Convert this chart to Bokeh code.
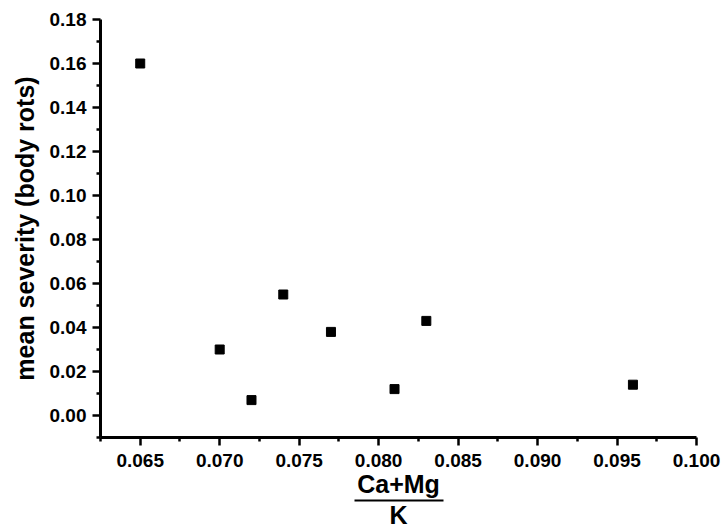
from bokeh.plotting import figure
from bokeh.models import (FixedTicker, PrintfTickFormatter, Range1d, LinearAxis,
                          ColumnDataSource)
from bokeh.embed import file_html
from bokeh.resources import INLINE

# data
ratio = [0.065, 0.070, 0.072, 0.074, 0.077, 0.081, 0.083, 0.096]
severity = [0.160, 0.030, 0.007, 0.055, 0.038, 0.012, 0.043, 0.014]

x_major = [0.065, 0.070, 0.075, 0.080, 0.085, 0.090, 0.095, 0.100]
x_minor = [0.0625, 0.0675, 0.0725, 0.0775, 0.0825, 0.0875, 0.0925, 0.0975]
y_major = [0.00, 0.02, 0.04, 0.06, 0.08, 0.10, 0.12, 0.14, 0.16, 0.18]
y_minor = [-0.01, 0.01, 0.03, 0.05, 0.07, 0.09, 0.11, 0.13, 0.15, 0.17]

x_range = (0.0625, 0.100)
y_range = (-0.01, 0.18)

x_title_top = "Ca+Mg"
x_title_bottom = "K"
y_title = "mean severity (body rots)"

FONT = "Liberation Sans"

p = figure(width=721, height=531, output_backend="svg", toolbar_location=None,
           x_range=Range1d(*x_range), y_range=Range1d(*y_range),
           min_border_left=100, min_border_right=25, min_border_top=19,
           min_border_bottom=94)
p.outline_line_color = None
p.xgrid.visible = False
p.ygrid.visible = False
p.background_fill_color = "white"
p.border_fill_color = "white"

src = ColumnDataSource(dict(x=ratio, y=severity))
p.scatter("x", "y", source=src, marker="square", size=9, color="black")

for ax, major, minor, fmt in ((p.xaxis[0], x_major, x_minor, "%.3f"),
                              (p.yaxis[0], y_major, y_minor, "%.2f")):
    ax.ticker = FixedTicker(ticks=major, minor_ticks=minor)
    ax.formatter = PrintfTickFormatter(format=fmt)
    ax.axis_line_width = 3
    ax.axis_line_color = "black"
    ax.major_tick_line_width = 2.5
    ax.minor_tick_line_width = 2.5
    ax.major_tick_line_color = "black"
    ax.minor_tick_line_color = "black"
    ax.major_tick_out = 8
    ax.major_tick_in = 0
    ax.minor_tick_out = 4
    ax.minor_tick_in = 0
    ax.major_label_text_font = FONT
    ax.major_label_text_font_style = "bold"
    ax.major_label_text_font_size = "19px"
    ax.major_label_text_color = "black"

p.xaxis.major_label_standoff = 8
p.xaxis.axis_label_standoff = 0
p.yaxis.major_label_standoff = 6

p.yaxis.axis_label = y_title
p.yaxis.axis_label_text_font = FONT
p.yaxis.axis_label_text_font_style = "bold"
p.yaxis.axis_label_text_font_size = "25px"
p.yaxis.axis_label_text_color = "black"
p.yaxis.axis_label_standoff = 8


def bare_axis(label, line=False, bounds="auto", standoff=0):
    ax = LinearAxis(ticker=FixedTicker(ticks=[], minor_ticks=[]),
                    major_tick_line_color=None, minor_tick_line_color=None,
                    major_label_text_font_size="0px", major_tick_out=0,
                    minor_tick_out=0, major_tick_in=0, minor_tick_in=0,
                    major_label_standoff=0,
                    axis_label=label, axis_label_standoff=standoff,
                    axis_label_text_font=FONT, axis_label_text_font_style="bold",
                    axis_label_text_font_size="25px", axis_label_text_color="black",
                    axis_label_text_line_height=1.0,
                    bounds=bounds)
    if line:
        ax.axis_line_color = "black"
        ax.axis_line_width = 2
    else:
        ax.axis_line_color = None
    return ax


# fraction title: numerator, fraction bar (bounded axis line) and denominator
half = 44.5 * (x_range[1] - x_range[0]) / 596.0
xc = (x_range[0] + x_range[1]) / 2
p.add_layout(bare_axis(x_title_top, standoff=0), "below")
p.add_layout(bare_axis(x_title_bottom, line=True, bounds=(xc - half, xc + half),
                       standoff=0), "below")

open("out.html", "w").write(file_html(p, INLINE))
